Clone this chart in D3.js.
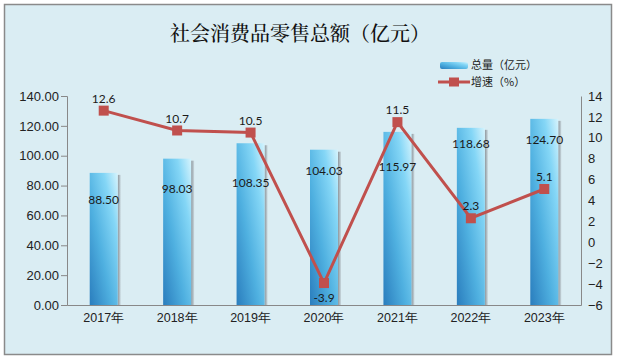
<!DOCTYPE html>
<html>
<head>
<meta charset="utf-8">
<script src="https://cdn.jsdelivr.net/npm/d3@7"></script>
<style>
  body { margin: 0; background: #fff; }
  svg { display: block; font-family: Lato, "Noto Sans CJK SC", sans-serif; }
  .axis text { fill: #222; }
</style>
</head>
<body>
<svg width="617" height="361"></svg>
<script>
// Data
const years = ["2017年", "2018年", "2019年", "2020年", "2021年", "2022年", "2023年"];
const totals = [88.50, 98.03, 108.35, 104.03, 115.97, 118.68, 124.70];
const growth = [12.6, 10.7, 10.5, -3.9, 11.5, 2.3, 5.1];
const leftTicks = [0, 20, 40, 60, 80, 100, 120, 140];
const rightTicks = [-6, -4, -2, 0, 2, 4, 6, 8, 10, 12, 14];

// label placement (px below bar top), and line label side
const barLabelDy = [27, 30, 40, 21, 35, 16, 21];
const lineLabelSide = ["up", "up", "up", "down", "up", "up", "up"];

const svg = d3.select("svg");
const plot = { left: 67, right: 581, top: 96, bottom: 305 };
const barW = 28;

// Background + frame
svg.append("rect")
  .attr("x", 4.5).attr("y", 4.5)
  .attr("width", 607).attr("height", 350)
  .attr("fill", "#daedf3")
  .attr("stroke", "#8a8a8a")
  .attr("stroke-width", 1.5);

// Gradients
const defs = svg.append("defs");
const barGrad = defs.append("linearGradient")
  .attr("id", "barGrad")
  .attr("x1", 0).attr("y1", 1).attr("x2", 1).attr("y2", 0);
barGrad.append("stop").attr("offset", "0%").attr("stop-color", "#2a7dbd");
barGrad.append("stop").attr("offset", "40%").attr("stop-color", "#4fb0e0");
barGrad.append("stop").attr("offset", "75%").attr("stop-color", "#84d6f6");
barGrad.append("stop").attr("offset", "100%").attr("stop-color", "#d6f4fd");

const shadowGrad = defs.append("linearGradient")
  .attr("id", "shadowGrad")
  .attr("x1", 0).attr("y1", 0).attr("x2", 1).attr("y2", 0);
shadowGrad.append("stop").attr("offset", "0%").attr("stop-color", "#8d969c");
shadowGrad.append("stop").attr("offset", "100%").attr("stop-color", "#c9d8de");

// Scales
const x = d3.scaleBand().domain(years).range([plot.left, plot.right]).padding(0);
const cx = d => x(d) + x.bandwidth() / 2;

const yL = d3.scaleLinear().domain([0, 140]).range([plot.bottom, plot.top]);
const yR = d3.scaleLinear().domain([-6, 14]).range([plot.bottom, plot.top]);

// Title
svg.append("text")
  .attr("x", 300)
  .attr("y", 41)
  .attr("text-anchor", "middle")
  .attr("font-family", "'Noto Serif CJK SC', 'Noto Sans CJK SC', serif")
  .attr("font-size", 20)
  .attr("font-weight", 500)
  .attr("fill", "#111")
  .text("社会消费品零售总额（亿元）");

// Left axis
const gL = svg.append("g")
  .attr("class", "axis")
  .attr("transform", `translate(${plot.left},0)`)
  .call(d3.axisLeft(yL).tickValues(leftTicks).tickFormat(d3.format(".2f")).tickSize(6).tickPadding(2));
gL.selectAll("text").attr("font-size", 13);
gL.selectAll("line, path").attr("stroke", "#888");

// Right axis
const gR = svg.append("g")
  .attr("class", "axis")
  .attr("transform", `translate(${plot.right},0)`)
  .call(d3.axisRight(yR).tickValues(rightTicks).tickSize(0).tickPadding(7));
gR.selectAll("text").attr("font-size", 13);
gR.selectAll("path").attr("stroke", "#888");

// Bottom axis
const gX = svg.append("g")
  .attr("class", "axis")
  .attr("transform", `translate(0,${plot.bottom})`)
  .call(d3.axisBottom(x).tickSize(0).tickPadding(8));
gX.selectAll("text").attr("font-size", 12.5);
gX.select("path").attr("stroke", "#888").attr("stroke-width", 1.2);

// Bars with shadow
const bars = svg.append("g");
bars.selectAll("rect.shadow")
  .data(totals)
  .join("rect")
  .attr("class", "shadow")
  .attr("x", (d, i) => cx(years[i]) + barW / 2)
  .attr("y", d => yL(d) + 2)
  .attr("width", 3)
  .attr("height", d => plot.bottom - yL(d) - 2)
  .attr("fill", "url(#shadowGrad)");

bars.selectAll("rect.bar")
  .data(totals)
  .join("rect")
  .attr("class", "bar")
  .attr("x", (d, i) => cx(years[i]) - barW / 2)
  .attr("y", d => yL(d))
  .attr("width", barW)
  .attr("height", d => plot.bottom - yL(d))
  .attr("fill", "url(#barGrad)");

bars.selectAll("text")
  .data(totals)
  .join("text")
  .attr("x", (d, i) => cx(years[i]))
  .attr("y", (d, i) => yL(d) + barLabelDy[i])
  .attr("dy", "0.35em")
  .attr("text-anchor", "middle")
  .attr("font-size", 12)
  .attr("fill", "#1a1a1a")
  .text(d => d.toFixed(2));

// Growth line
const line = d3.line()
  .x((d, i) => cx(years[i]))
  .y(d => yR(d));

svg.append("path")
  .datum(growth)
  .attr("fill", "none")
  .attr("stroke", "#c0504d")
  .attr("stroke-width", 3)
  .attr("d", line);

svg.selectAll("rect.marker")
  .data(growth)
  .join("rect")
  .attr("class", "marker")
  .attr("x", (d, i) => cx(years[i]) - 5)
  .attr("y", d => yR(d) - 5)
  .attr("width", 10)
  .attr("height", 10)
  .attr("fill", "#c0504d");

svg.selectAll("text.glabel")
  .data(growth)
  .join("text")
  .attr("class", "glabel")
  .attr("x", (d, i) => cx(years[i]))
  .attr("y", (d, i) => yR(d) + (lineLabelSide[i] === "up" ? -12 : 15))
  .attr("dy", "0.35em")
  .attr("text-anchor", "middle")
  .attr("font-size", 12)
  .attr("fill", "#1a1a1a")
  .text(d => d.toFixed(1));

// Legend
const legend = svg.append("g").attr("font-family", "'Noto Sans CJK SC', sans-serif");
legend.append("rect")
  .attr("x", 440).attr("y", 62)
  .attr("width", 28).attr("height", 7)
  .attr("rx", 2)
  .attr("fill", "url(#barGrad)");
legend.append("text")
  .attr("x", 471).attr("y", 65)
  .attr("dy", "0.35em")
  .attr("font-size", 11)
  .attr("fill", "#222")
  .text("总量（亿元）");
legend.append("line")
  .attr("x1", 438).attr("x2", 470)
  .attr("y1", 82).attr("y2", 82)
  .attr("stroke", "#c0504d")
  .attr("stroke-width", 3);
legend.append("rect")
  .attr("x", 449).attr("y", 77.5)
  .attr("width", 10).attr("height", 9)
  .attr("fill", "#c0504d");
legend.append("text")
  .attr("x", 471).attr("y", 82)
  .attr("dy", "0.35em")
  .attr("font-size", 11)
  .attr("fill", "#222")
  .text("增速（%）");
</script>
</body>
</html>
